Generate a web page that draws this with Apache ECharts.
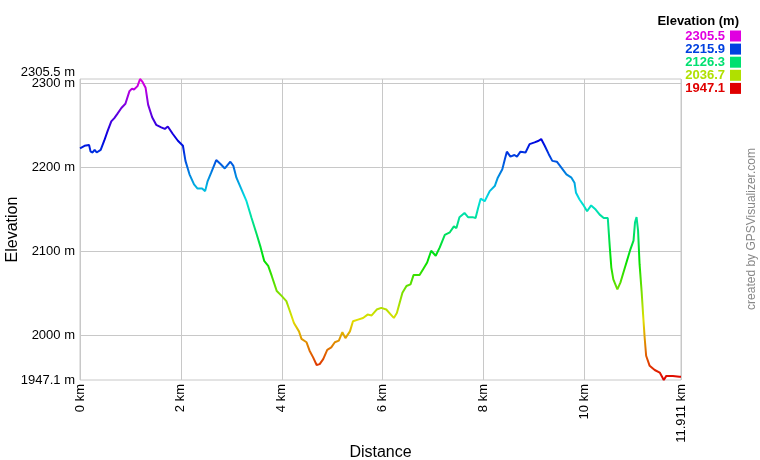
<!DOCTYPE html>
<html><head><meta charset="utf-8">
<script src="https://cdn.jsdelivr.net/npm/echarts@6/dist/echarts.min.js"></script>
<style>html,body{margin:0;padding:0;background:#fff}#c{width:760px;height:460px}</style>
</head><body><div id="c"></div>
<script>
const distKm = [0.00,0.09,0.18,0.21,0.25,0.29,0.33,0.36,0.41,0.48,0.55,0.62,0.68,0.74,0.82,0.90,0.98,1.03,1.07,1.14,1.19,1.24,1.30,1.35,1.43,1.51,1.61,1.68,1.74,1.84,1.94,2.04,2.09,2.17,2.26,2.33,2.42,2.48,2.53,2.60,2.70,2.79,2.87,2.98,3.04,3.10,3.20,3.30,3.40,3.50,3.58,3.65,3.73,3.80,3.90,4.00,4.09,4.16,4.24,4.34,4.39,4.49,4.55,4.62,4.69,4.75,4.82,4.90,4.98,5.05,5.13,5.20,5.26,5.35,5.41,5.51,5.61,5.70,5.78,5.88,5.97,6.07,6.16,6.22,6.28,6.39,6.47,6.55,6.61,6.73,6.80,6.88,6.96,7.05,7.13,7.23,7.33,7.41,7.46,7.52,7.62,7.69,7.78,7.84,7.89,7.94,8.02,8.12,8.22,8.28,8.37,8.42,8.46,8.53,8.61,8.66,8.73,8.83,8.91,9.01,9.09,9.14,9.21,9.29,9.36,9.45,9.54,9.64,9.74,9.80,9.83,9.90,9.97,10.05,10.13,10.22,10.30,10.38,10.46,10.50,10.53,10.57,10.65,10.71,10.77,10.84,10.91,10.97,11.00,11.03,11.06,11.09,11.13,11.16,11.19,11.22,11.29,11.39,11.49,11.57,11.62,11.75,11.88,11.911];
const elevM = [2223,2226,2227,2219,2218,2221,2218,2216,2221,2232,2244,2255,2259,2264,2271,2276,2291,2294,2293,2297,2305.5,2302,2295,2275,2260,2251,2248,2246,2249,2240,2232,2226,2208,2192,2180,2175,2175,2172,2184,2194,2209,2204,2199,2207,2202,2188,2174,2160,2140,2121,2105,2089,2083,2071,2053,2047,2041,2029,2015,2005,1996,1992,1982,1974,1965,1966,1972,1983,1986,1992,1994,2004,1997,2005,2017,2019,2021,2025,2024,2031,2033,2031,2025,2021,2027,2051,2059,2061,2072,2072,2079,2087,2101,2095,2105,2120,2123,2130,2128,2141,2146,2141,2141,2140,2152,2163,2160,2172,2178,2188,2198,2210,2219,2213,2215,2213,2219,2218,2228,2230,2232,2234,2226,2216,2208,2207,2200,2192,2188,2182,2170,2162,2156,2148,2155,2150,2144,2140,2140,2105,2081,2067,2055,2063,2075,2089,2103,2113,2135,2141,2125,2085,2053,2025,1998,1976,1964,1959,1956,1947.1,1952,1952,1951,1951];
const yMin = 1947.1, yMax = 2305.5;
const yLabelValues = [1947.1, 2000, 2100, 2200, 2300];
const yTopLabelValues = [2305.5];
const yGridValues = [2000, 2100, 2200, 2300];
const xLabelValues = [0, 2, 4, 6, 8, 10, 11.911];
const legendValues = ['2305.5', '2215.9', '2126.3', '2036.7', '1947.1'];
const legendColors = ['#e000e0', '#0040e0', '#00e070', '#b0e000', '#e00000'];
const scaleColors = ['#e00000','#e07000','#e0e000','#70e000','#00e000','#00e070','#00e0e0','#0070e0','#0000e0','#7000e0','#e000e0'];

const FONT = 'Liberation Sans, Arial, sans-serif';
const data = distKm.map((d, i) => [d, elevM[i]]);

const graphics = [
  { type: 'text', x: 739, y: 21, style: { text: 'Elevation (m)', textAlign: 'right', textVerticalAlign: 'middle', font: 'bold 13px ' + FONT, fill: '#000' } },
  { type: 'text', x: 752, y: 229, rotation: Math.PI / 2, style: { text: 'created by GPSVisualizer.com', textAlign: 'center', textVerticalAlign: 'middle', font: '12px ' + FONT, fill: '#888' } }
];
legendValues.forEach((v, i) => {
  const cy = 36 + i * 13.1;
  graphics.push({ type: 'text', x: 725, y: cy, style: { text: v, textAlign: 'right', textVerticalAlign: 'middle', font: 'bold 13px ' + FONT, fill: legendColors[i] } });
  graphics.push({ type: 'rect', shape: { x: 730, y: cy - 5.5, width: 11, height: 11 }, style: { fill: legendColors[i] } });
});

const labelBase = { margin: 5, fontSize: 13, color: '#000', fontFamily: FONT, showMinLabel: true, showMaxLabel: true, hideOverlap: false };

const chart = echarts.init(document.getElementById('c'), null, { renderer: 'canvas' });
chart.setOption({
  animation: false,
  backgroundColor: '#fff',
  textStyle: { fontFamily: FONT },
  grid: { left: 80, right: 79, top: 79, bottom: 80, containLabel: false, outerBoundsMode: 'none', show: true, borderColor: '#c8c8c8', borderWidth: 1 },
  xAxis: {
    type: 'value', min: 0, max: 11.911, interval: 2,
    name: 'Distance', nameLocation: 'middle', nameGap: 65, nameMoveOverlap: false,
    nameTextStyle: { fontSize: 16, color: '#000', fontFamily: FONT },
    axisLine: { show: false }, axisTick: { show: false },
    splitLine: { show: true, lineStyle: { color: '#c8c8c8', width: 1 } },
    axisLabel: Object.assign({}, labelBase, { customValues: xLabelValues, rotate: 90, margin: 4, formatter: v => v + ' km' })
  },
  yAxis: [{
    type: 'value', min: yMin, max: yMax, position: 'left',
    name: 'Elevation', nameLocation: 'middle', nameGap: 59, nameMoveOverlap: false,
    nameTextStyle: { fontSize: 16, color: '#000', fontFamily: FONT },
    axisLine: { show: false },
    axisTick: { show: false, customValues: yGridValues },
    splitLine: { show: true, lineStyle: { color: '#c8c8c8', width: 1 } },
    axisLabel: Object.assign({}, labelBase, { customValues: yLabelValues, formatter: v => v + ' m' })
  }, {
    type: 'value', min: yMin, max: yMax, position: 'left', offset: 0,
    axisLine: { show: false }, axisTick: { show: false }, splitLine: { show: false },
    axisLabel: Object.assign({}, labelBase, { customValues: yTopLabelValues, verticalAlign: 'bottom', formatter: v => v + ' m' })
  }],
  visualMap: { show: false, type: 'continuous', dimension: 1, seriesIndex: 0, min: yMin, max: yMax, inRange: { color: scaleColors } },
  series: [{ type: 'line', yAxisIndex: 0, data: data, showSymbol: false, symbol: 'none', lineStyle: { width: 2 } }],
  graphic: graphics
});
</script></body></html>
